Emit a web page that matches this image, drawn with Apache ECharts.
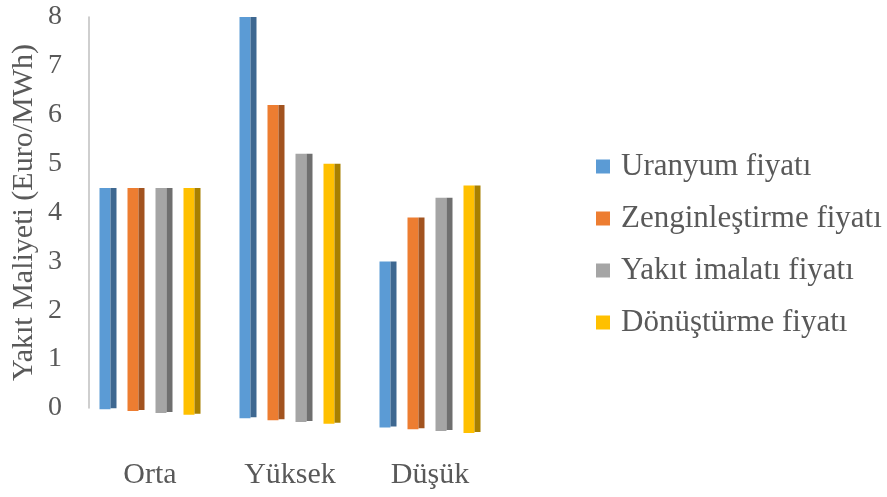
<!DOCTYPE html>
<html>
<head>
<meta charset="utf-8">
<script src="https://cdn.jsdelivr.net/npm/echarts@6/dist/echarts.min.js"></script>
<style>
  html, body { margin: 0; padding: 0; background: #fff; }
  #main { width: 887px; height: 497px; }
</style>
</head>
<body>
<div id="main"></div>
<script>
var categories = ['Orta', 'Yüksek', 'Düşük'];
var seriesNames = ['Uranyum fiyatı', 'Zenginleştirme fiyatı', 'Yakıt imalatı fiyatı', 'Dönüştürme fiyatı'];
var uranyum = [4.5, 8.0, 3.0];
var zenginlestirme = [4.5, 6.2, 3.9];
var yakitImalati = [4.5, 5.2, 4.3];
var donusturme = [4.5, 5.0, 4.55];
var yTicks = [0, 1, 2, 3, 4, 5, 6, 7, 8];

var allValues = [uranyum, zenginlestirme, yakitImalati, donusturme];
var frontColors = ['#5B9BD5', '#ED7D31', '#A5A5A5', '#FFC000'];
var sideColors = ['#3E6891', '#A2531F', '#6F6F6F', '#A88000'];

var FONT = '"Liberation Serif", "Times New Roman", serif';
var STEP = 28, FRONT = 11, SIDE = 6, SLOPE = 0.065;

function makeRender(si) {
  return function (params, api) {
    var cat = api.value(0), val = api.value(1);
    var top = api.coord([cat, val]);
    var base = api.coord([cat, 0]);
    var x = top[0] + (si - 1.5) * STEP - (FRONT + SIDE) / 2;
    // perspective: bar bottoms drop a little to the right
    var drop = (x - params.coordSys.x) * SLOPE;
    var h = base[1] + drop - top[1];
    return {
      type: 'group',
      children: [
        { type: 'rect', shape: { x: x, y: top[1], width: FRONT, height: h },
          style: { fill: frontColors[si] } },
        { type: 'rect', shape: { x: x + FRONT, y: top[1], width: SIDE, height: h - 1 },
          style: { fill: sideColors[si] } }
      ]
    };
  };
}

var series = allValues.map(function (vals, si) {
  return {
    name: seriesNames[si],
    type: 'custom',
    renderItem: makeRender(si),
    itemStyle: { color: frontColors[si] },
    encode: { x: 0, y: 1 },
    data: vals.map(function (v, i) { return [i, v]; })
  };
});

var chart = echarts.init(document.getElementById('main'));
chart.setOption({
  animation: false,
  grid: { left: 80, top: 17, width: 420, bottom: 89 },
  legend: {
    orient: 'vertical',
    left: 591,
    top: 146,
    icon: 'rect',
    itemWidth: 14,
    itemHeight: 14,
    itemGap: 21,
    textStyle: { fontFamily: FONT, fontSize: 31, color: '#595959', padding: [0, 0, 0, 6] },
    data: seriesNames
  },
  xAxis: {
    type: 'category',
    data: categories,
    axisLine: { show: false },
    axisTick: { show: false },
    axisLabel: { margin: 52, fontFamily: FONT, fontSize: 30, color: '#595959' }
  },
  yAxis: {
    type: 'value',
    min: 0,
    max: yTicks[yTicks.length - 1],
    interval: 1,
    offset: -9,
    name: 'Yakıt Maliyeti (Euro/MWh)',
    nameLocation: 'middle',
    nameGap: 50,
    nameTextStyle: { fontFamily: FONT, fontSize: 30, color: '#595959' },
    axisLine: { show: true, lineStyle: { color: '#BFBFBF', width: 1.5 } },
    axisTick: { show: false },
    splitLine: { show: false },
    axisLabel: { margin: 27, fontFamily: FONT, fontSize: 28, color: '#595959' }
  },
  series: series
});
</script>
</body>
</html>
